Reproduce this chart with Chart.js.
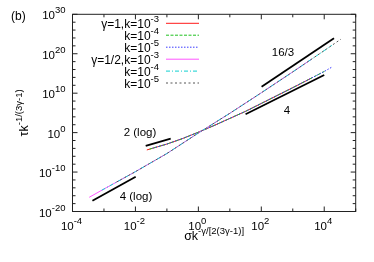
<!DOCTYPE html>
<html>
<head>
<meta charset="utf-8">
<script src="https://cdn.jsdelivr.net/npm/chart.js@4/dist/chart.umd.min.js"></script>
<style>
html,body{margin:0;padding:0;background:#fff;}
#wrap{width:374px;height:262px;position:relative;}
</style>
</head>
<body>
<div id="wrap"><canvas id="c" width="374" height="262"></canvas></div>
<script>
// ---- data ----
// gamma = 1 series
const sigmaG1k3 = [2.3e-2, 0.1, 0.316, 1, 3.16, 10, 31.6, 100, 1e3, 4e3];
const tauG1k3   = [4e-5, 1.26e-3, 3.2e-2, 1.26, 63, 4e3, 2.5e5, 2.5e7, 2.5e11, 7.2e13];
const sigmaG1k4 = [2.8e-2, 0.1, 0.316, 1, 3.16, 10, 31.6, 100, 1e3, 1e4, 1.12e4];
const tauG1k4   = [6.5e-5, 1.26e-3, 3.2e-2, 1.26, 63, 4e3, 2.5e5, 2.5e7, 2.5e11, 3.2e15, 5.4e15];
const sigmaG1k5 = [3.5e-2, 0.1, 0.316, 1, 3.16, 10, 31.6, 100, 1e3, 1e4, 1.74e4];
const tauG1k5   = [1.1e-4, 1.26e-3, 3.2e-2, 1.26, 63, 4e3, 2.5e5, 2.5e7, 2.5e11, 3.2e15, 4e16];
// gamma = 1/2 series
const sigmaGhk3 = [3.4e-4, 1e-3, 1e-2, 0.1, 1, 10, 100, 1e3, 4e3];
const tauGhk3   = [4e-17, 5e-15, 1.26e-10, 5e-6, 0.79, 7.9e4, 1.26e10, 2.5e15, 4.4e18];
const sigmaGhk4 = [8.5e-4, 1e-3, 1e-2, 0.1, 1, 10, 100, 1e3, 1e4, 1.74e4];
const tauGhk4   = [2.5e-15, 5e-15, 1.26e-10, 5e-6, 0.79, 7.9e4, 1.26e10, 2.5e15, 6.3e20, 1.3e22];
const sigmaGhk5 = [2.5e-3, 1e-2, 0.1, 1, 10, 100, 1e3, 1e4, 3.4e4];
const tauGhk5   = [2.9e-13, 1.26e-10, 5e-6, 0.79, 7.9e4, 1.26e10, 2.5e15, 6.3e20, 5e23];
// reference slope segments
const slope2Sigma  = [2.12e-2, 0.132];   const slope2Tau  = [4.1e-4, 2.9e-2];
const slope4lSigma = [4.3e-4, 1.02e-2];  const slope4lTau = [5.5e-18, 6.6e-12];
const slope16Sigma = [102, 2.04e4];      const slope16Tau = [4.4e11, 8.1e23];
const slope4Sigma  = [31.6, 1e4];        const slope4Tau  = [4.5e4, 4.1e14];
// labels
const seriesLabels = [['γ=1,k=10','-3'],['k=10','-4'],['k=10','-5'],['γ=1/2,k=10','-3'],['k=10','-4'],['k=10','-5']];
const xTickExps = ['-4','-2','0','2','4'];
const yTickExps = ['-20','-10','0','10','20','30'];
const slopeTexts = ['16/3','4','2 (log)','4 (log)'];

const FONT = "'Liberation Sans',Arial,sans-serif";
function pts(xs, ys){ return xs.map((x,i)=>({x:x, y:ys[i]})); }

const styles = [
  {c:'#ff1a1a', d:[]},
  {c:'#1fc01f', d:[3,1.5]},
  {c:'#3a3aff', d:[1.5,1.5]},
  {c:'#ff55ff', d:[]},
  {c:'#10d0d0', d:[4,2,1,2]},
  {c:'#555555', d:[2,2.5]}
];
const seriesData = [
  pts(sigmaG1k3,tauG1k3), pts(sigmaG1k4,tauG1k4), pts(sigmaG1k5,tauG1k5),
  pts(sigmaGhk3,tauGhk3), pts(sigmaGhk4,tauGhk4), pts(sigmaGhk5,tauGhk5)
];
const datasets = seriesData.map((d,i)=>({
  label: seriesLabels[i].join('^'), data: d, borderColor: styles[i].c, borderWidth: 1,
  borderDash: styles[i].d, pointRadius: 0, fill: false, tension: 0, order: 20 - i
}));
[[slope2Sigma,slope2Tau],[slope4lSigma,slope4lTau],[slope16Sigma,slope16Tau],[slope4Sigma,slope4Tau]].forEach(s=>{
  datasets.push({label:'ref', data: pts(s[0],s[1]), borderColor:'#000', borderWidth:1.8, pointRadius:0, fill:false, order:1});
});

function supText(ctx, base, exp, x, y, align, bsize, esize, rise){
  ctx.font = bsize + 'px ' + FONT;
  const wb = ctx.measureText(base).width;
  ctx.font = esize + 'px ' + FONT;
  const we = ctx.measureText(exp).width;
  const w = wb + we;
  let x0 = x;
  if (align === 'right') x0 = x - w; else if (align === 'center') x0 = x - w/2;
  ctx.textAlign = 'left'; ctx.textBaseline = 'alphabetic';
  ctx.font = bsize + 'px ' + FONT; ctx.fillText(base, x0, y);
  ctx.font = esize + 'px ' + FONT; ctx.fillText(exp, x0 + wb, y - rise);
}

const decor = {
  id: 'decor',
  afterDatasetsDraw(chart){
    const ctx = chart.ctx, a = chart.chartArea, xs = chart.scales.x, ys = chart.scales.y;
    ctx.save();
    ctx.fillStyle = '#000';
    ctx.strokeStyle = '#222'; ctx.lineWidth = 1; ctx.setLineDash([]);
    ctx.strokeRect(a.left, a.top, a.right - a.left, a.bottom - a.top);
    ctx.beginPath();
    for (let d = -4; d <= 5; d++){
      const px = xs.getPixelForValue(Math.pow(10,d));
      const L = (d % 2 === 0) ? 5 : 3;
      ctx.moveTo(px, a.bottom); ctx.lineTo(px, a.bottom - L);
      ctx.moveTo(px, a.top); ctx.lineTo(px, a.top + L);
    }
    for (let d = -20; d <= 30; d += 2){
      const py = ys.getPixelForValue(Math.pow(10,d));
      const L = (d % 10 === 0) ? 5 : 3;
      ctx.moveTo(a.left, py); ctx.lineTo(a.left + L, py);
      ctx.moveTo(a.right, py); ctx.lineTo(a.right - L, py);
    }
    ctx.stroke();
    xTickExps.forEach(e=>{
      const px = xs.getPixelForValue(Math.pow(10, Number(e)));
      supText(ctx, '10', e, px - 1, a.bottom + 18, 'center', 11.5, 9.5, 6);
    });
    yTickExps.forEach(e=>{
      const py = ys.getPixelForValue(Math.pow(10, Number(e)));
      supText(ctx, '10', e, a.left - 7, py + 5, 'right', 11.5, 9.5, 6);
    });
    supText(ctx, 'σk', '-γ/[2(3γ-1)]', (a.left + a.right)/2, a.bottom + 28.5, 'center', 12.5, 9.5, 6);
    ctx.save();
    ctx.translate(28, (a.top + a.bottom)/2);
    ctx.rotate(-Math.PI/2);
    supText(ctx, 'τk', '-1/(3γ-1)', 0, 0, 'center', 12.5, 9.5, 6);
    ctx.restore();
    ctx.font = '12px ' + FONT; ctx.textAlign = 'left';
    ctx.fillText('(b)', 11, 20);
    ctx.font = '11.5px ' + FONT; ctx.textAlign = 'center'; ctx.textBaseline = 'middle';
    const lp = [[283,53],[287,111],[140,133],[136,197]];
    slopeTexts.forEach((t,i)=>ctx.fillText(t, lp[i][0], lp[i][1]));
    const rowY = [23.3, 35.2, 47.2, 59.2, 71.1, 83];
    seriesLabels.forEach((lab,i)=>{
      supText(ctx, lab[0], lab[1], 159, rowY[i] + 4.5, 'right', 12, 9.5, 6);
      ctx.strokeStyle = styles[i].c; ctx.lineWidth = 1; ctx.setLineDash(styles[i].d);
      ctx.beginPath(); ctx.moveTo(166, rowY[i]); ctx.lineTo(199, rowY[i]); ctx.stroke();
    });
    ctx.restore();
  }
};

new Chart(document.getElementById('c'), {
  type: 'line',
  data: { datasets: datasets },
  options: {
    responsive: false, animation: false, devicePixelRatio: 1,
    layout: { padding: { left: 72.5, right: 18.3, top: 14.3, bottom: 50.5 } },
    plugins: { legend: { display: false }, tooltip: { enabled: false } },
    scales: {
      x: { type: 'logarithmic', min: 1e-4, max: 1e5, display: false },
      y: { type: 'logarithmic', min: 1e-20, max: 1e30, display: false }
    }
  },
  plugins: [decor]
});
</script>
</body>
</html>
